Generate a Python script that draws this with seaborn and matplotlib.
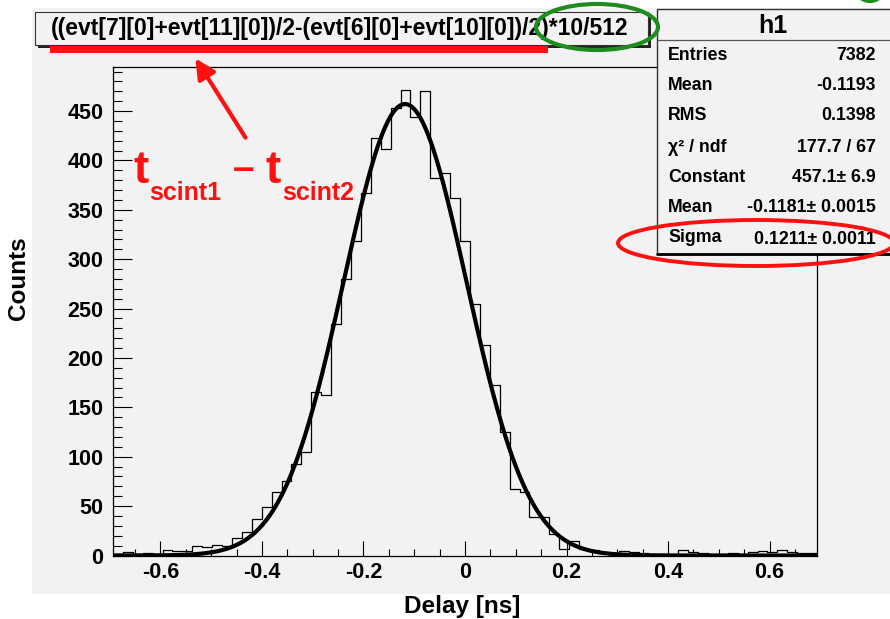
import numpy as np
import pandas as pd
import matplotlib
matplotlib.use("Agg")
import matplotlib.pyplot as plt
import seaborn as sns
from matplotlib.patches import Rectangle, Ellipse, FancyArrowPatch
from matplotlib.ticker import MultipleLocator, FixedLocator, FixedFormatter

# ---------------- data ----------------
bin_width = 10 / 512
bin_index = list(range(-35, 36))
counts = [2, 4, 2, 3, 2, 6, 5, 5, 10, 9, 11, 10, 18, 24,
          37, 49, 64, 75, 93, 105, 166, 163, 234, 280, 318,
          367, 423, 412, 453, 471, 444, 470, 382, 387, 362, 318,
          255, 213, 173, 125, 67, 64, 39, 39, 22, 7, 15,
          7, 6, 4, 3, 5, 4, 3, 2, 2, 2, 6, 4, 3, 2, 2, 3, 2, 4, 5, 4, 6, 4, 3, 3]
fit_constant = 457.1
fit_mean = -0.1181
fit_sigma = 0.1211

x_ticks = [-0.6, -0.4, -0.2, 0.0, 0.2, 0.4, 0.6]
x_tick_labels = ["-0.6", "-0.4", "-0.2", "0", "0.2", "0.4", "0.6"]
y_ticks = [0, 50, 100, 150, 200, 250, 300, 350, 400, 450]
y_tick_labels = ["0", "50", "100", "150", "200", "250", "300", "350", "400", "450"]

title_text = "((evt[7][0]+evt[11][0])/2-(evt[6][0]+evt[10][0])/2)*10/512"
stats_name = "h1"
stats_labels = ["Entries", "Mean", "RMS", "χ² / ndf", "Constant", "Mean", "Sigma"]
stats_values = ["7382", "-0.1193", "0.1398", "177.7 / 67", "457.1± 6.9",
                "-0.1181± 0.0015", "0.1211± 0.0011"]
x_label = "Delay [ns]"
y_label = "Counts"

# ---------------- style ----------------
W, H = 890, 619
sns.set_theme(style="ticks")
plt.rcParams["font.family"] = ["Liberation Sans", "DejaVu Sans"]
plt.rcParams["font.weight"] = "bold"
plt.rcParams["axes.unicode_minus"] = False

fig = plt.figure(figsize=(W / 100, H / 100), dpi=100)
fig.patch.set_facecolor("white")


def fx(x):
    return x / W


def fy(y):
    return 1 - y / H


# grey pad
fig.patches.append(Rectangle((fx(32), fy(594)), fx(890) - fx(32), fy(8) - fy(594),
                             transform=fig.transFigure, facecolor="#f2f2f2",
                             edgecolor="none", zorder=-5))

ax = fig.add_axes([fx(113), fy(555.5), (817 - 113) / W, (555.5 - 67) / H])
ax.set_facecolor("#f2f2f2")

centers = np.array(bin_index) * bin_width
edges = [float(e) for e in np.arange(-35.5, 36.5, 1.0) * bin_width]
df = pd.DataFrame({"delay": centers, "counts": counts})
sns.histplot(data=df, x="delay", weights="counts", bins=edges, element="step",
             fill=False, color="black", linewidth=0.9, ax=ax)

xf = np.linspace(edges[0], edges[-1], 800)
fit_df = pd.DataFrame({"delay": xf,
                       "fit": fit_constant * np.exp(-0.5 * ((xf - fit_mean) / fit_sigma) ** 2)})
sns.lineplot(data=fit_df, x="delay", y="fit", color="black", linewidth=3.0, ax=ax)

ax.set_xlim(edges[0], edges[-1])
ax.set_ylim(0, 494.6)
ax.xaxis.set_major_locator(FixedLocator(x_ticks))
ax.xaxis.set_major_formatter(FixedFormatter(x_tick_labels))
ax.yaxis.set_major_locator(FixedLocator(y_ticks))
ax.yaxis.set_major_formatter(FixedFormatter(y_tick_labels))
ax.xaxis.set_minor_locator(MultipleLocator(0.05))
ax.yaxis.set_minor_locator(MultipleLocator(10))
ax.tick_params(axis="x", which="major", direction="in", length=10.5, width=0.8,
               color="black", labelsize=15.5, pad=5, labelcolor="black")
ax.tick_params(axis="x", which="minor", direction="in", length=5.3, width=0.8, color="black")
ax.tick_params(axis="y", which="major", direction="in", length=13.5, width=0.8,
               color="black", labelsize=15.5, pad=7, labelcolor="black")
ax.tick_params(axis="y", which="minor", direction="in", length=6.8, width=0.8, color="black")
for s in ax.spines.values():
    s.set_color("black")
    s.set_linewidth(0.9)

ax.set_xlabel(x_label, fontsize=17.5, fontweight="bold", color="black")
ax.set_ylabel(y_label, fontsize=17.5, fontweight="bold", color="black")
ax.xaxis.set_label_coords((462 - 113) / 704, (555.5 - 595) / 488.5)
ax.yaxis.set_label_coords((30 - 113) / 704, (555.5 - 278) / 488.5)

# ---------------- title box ----------------
fig.patches.append(Rectangle((fx(38), fy(48)), fx(651) - fx(38), fy(15) - fy(48),
                             transform=fig.transFigure, facecolor="#222222",
                             edgecolor="none", zorder=4))
fig.patches.append(Rectangle((fx(35), fy(45)), fx(648) - fx(35), fy(12) - fy(45),
                             transform=fig.transFigure, facecolor="#f2f2f2",
                             edgecolor="#333333", linewidth=0.8, zorder=5))
fig.text(fx(340), fy(28.5), title_text, fontsize=16.5, fontweight="bold", ha="center",
         va="center", color="black", zorder=6)

# ---------------- stats box ----------------
fig.patches.append(Rectangle((fx(657), fy(254)), fx(892) - fx(657), fy(9) - fy(254),
                             transform=fig.transFigure, facecolor="#f2f2f2",
                             edgecolor="#333333", linewidth=1.0, zorder=5))
fig.lines.append(plt.Line2D([fx(657), fx(890)], [fy(254), fy(254)], transform=fig.transFigure,
                            color="black", linewidth=2.0, zorder=6))
fig.lines.append(plt.Line2D([fx(657), fx(890)], [fy(39.5), fy(39.5)], transform=fig.transFigure,
                            color="#555555", linewidth=0.9, zorder=6))
fig.text(fx(773), fy(26), stats_name, fontsize=18, fontweight="bold", ha="center",
         va="center", color="black", zorder=7)
label_y = [55, 86, 116, 147, 177, 208, 238]
value_y = [55, 86, 116, 147, 177, 208, 240]
for lab, val, ly, vy in zip(stats_labels, stats_values, label_y, value_y):
    fig.text(fx(668), fy(ly), lab, fontsize=12.8, fontweight="bold", ha="left",
             va="center", color="black", zorder=7)
    fig.text(fx(876), fy(vy), val, fontsize=12.8, fontweight="bold", ha="right",
             va="center", color="black", zorder=7)

# ---------------- annotations ----------------
red = "#ff1010"
green = "#1e8c1e"
fig.patches.append(Rectangle((fx(50), fy(53)), fx(548) - fx(50), fy(46) - fy(53),
                             transform=fig.transFigure, facecolor=red, edgecolor="none", zorder=8))
fig.patches.append(Ellipse((fx(597), fy(27)), fx(122), 46 / H, transform=fig.transFigure,
                           facecolor="none", edgecolor=green, linewidth=3, zorder=9))
fig.patches.append(Ellipse((fx(870), fy(-14)), fx(30), 30 / H, transform=fig.transFigure,
                           facecolor="none", edgecolor=green, linewidth=3, zorder=9))
fig.patches.append(Ellipse((fx(756), fy(243)), fx(276), 46 / H, transform=fig.transFigure,
                           facecolor="none", edgecolor=red, linewidth=2.8, zorder=9))
fig.patches.append(FancyArrowPatch((fx(247), fy(140)), (fx(194), fy(56)),
                                   transform=fig.transFigure, arrowstyle="-|>",
                                   mutation_scale=30, color=red, linewidth=3, zorder=9))
fig.text(fx(134), fy(183), "t", fontsize=33, fontweight="bold", color=red,
         ha="left", va="baseline", zorder=9)
fig.text(fx(149), fy(200), "scint1", fontsize=18, fontweight="bold", color=red,
         ha="left", va="baseline", zorder=9)
fig.text(fx(244), fy(170), "–", fontsize=28, fontweight="bold", color=red,
         ha="center", va="center", zorder=9)
fig.text(fx(266), fy(183), "t", fontsize=33, fontweight="bold", color=red,
         ha="left", va="baseline", zorder=9)
fig.text(fx(282), fy(200), "scint2", fontsize=18, fontweight="bold", color=red,
         ha="left", va="baseline", zorder=9)

fig.savefig("out.png", dpi=100, facecolor=fig.get_facecolor())
